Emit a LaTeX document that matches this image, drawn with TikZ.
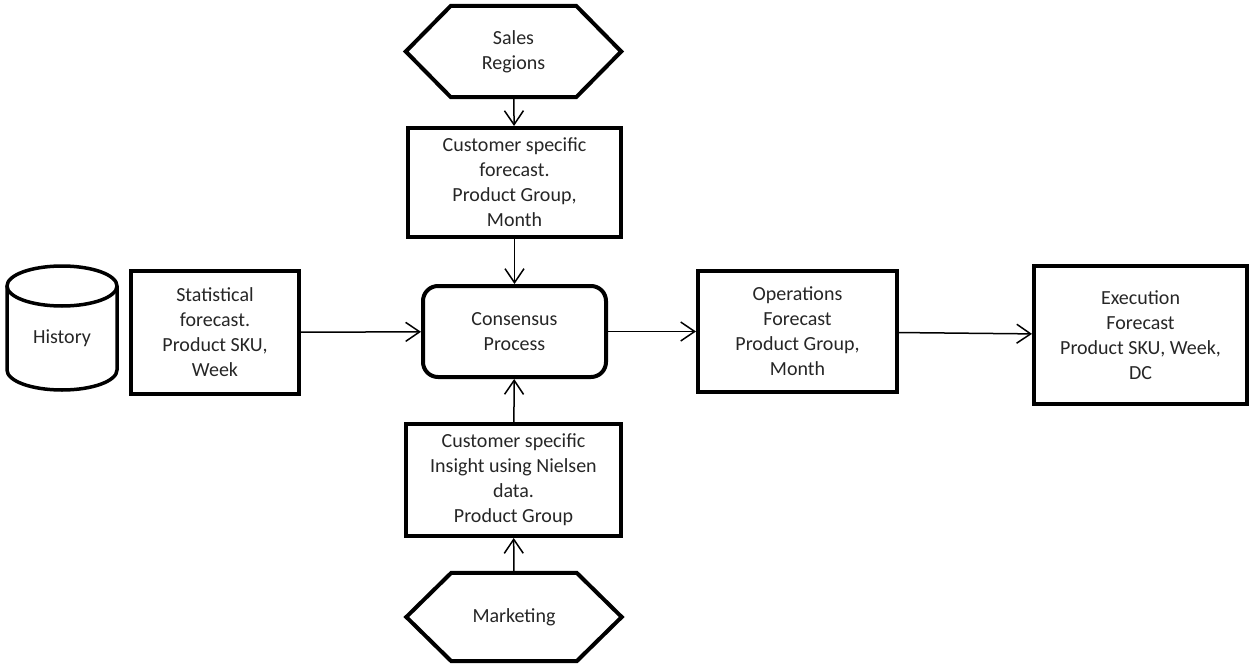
\documentclass[tikz,border=0pt]{standalone}
\usepackage{fontspec}
\setmainfont{Carlito}
\usetikzlibrary{arrows.meta}

\begin{document}
\begin{tikzpicture}[x=1pt, y=-1pt, line join=miter, font=\fontsize{20}{25}\selectfont]

  \tikzstyle{box}=[draw, line width=4pt, align=center, inner sep=0pt, text=black!85]
  \tikzstyle{hexa}=[align=center, inner sep=0pt, minimum width=215pt, text=black!85]
  \tikzstyle{flow}=[line width=1.5pt, -{Straight Barb[length=14pt, width=19pt]}]
  \def\tip{45pt}

  \useasboundingbox (0,0) rectangle (1252,669);

  % database
  \draw [line width=3.5pt] (7,286) -- (7,370)
    arc[start angle=180, end angle=0, x radius=55, y radius=20] -- (117,286);
  \draw [line width=3.5pt] (62,286) ellipse[x radius=55, y radius=20];
  \node [text=black!85] (hist) at (62,338) {History};

  % boxes
  \node [box, minimum width=168pt, minimum height=123pt] (stat) at (215,332.5)
    {Statistical\\forecast.\\Product SKU,\\Week};
  \node [box, minimum width=213pt, minimum height=109pt] (cust) at (514.5,182.5)
    {Customer specific\\forecast.\\Product Group,\\Month};
  \node [box, rounded corners=15pt, minimum width=183pt, minimum height=91pt] (cons) at (514.5,331.5)
    {Consensus\\Process};
  \node [box, minimum width=215pt, minimum height=112pt] (insight) at (513.5,480)
    {Customer specific\\Insight using Nielsen\\data.\\Product Group};
  \node [box, minimum width=199pt, minimum height=121pt] (ops) at (797.5,331.5)
    {Operations\\Forecast\\Product Group,\\Month};
  \node [box, minimum width=213pt, minimum height=138pt] (exec) at (1140.5,335)
    {Execution\\Forecast\\Product SKU, Week,\\DC};

  % hexagons
  \node [hexa, minimum height=91pt] (sales) at (513.5,51.5) {Sales\\Regions};
  \node [hexa, minimum height=88pt] (mkt) at (514,617) {Marketing};
  \foreach \h in {sales,mkt}
    \draw [line width=4pt] (\h.west) -- ([xshift=\tip]\h.north west)
      -- ([xshift=-\tip]\h.north east) -- (\h.east)
      -- ([xshift=-\tip]\h.south east) -- ([xshift=\tip]\h.south west) -- cycle;

  % arrows
  \draw [flow] (sales) -- (cust);
  \draw [flow] (cust) -- (cons);
  \draw [flow] (mkt) -- (insight);
  \draw [flow] (insight) -- (cons);
  \draw [flow] (stat) -- (cons);
  \draw [flow] (cons) -- (ops);
  \draw [flow] (ops) -- (exec);

\end{tikzpicture}
\end{document}
